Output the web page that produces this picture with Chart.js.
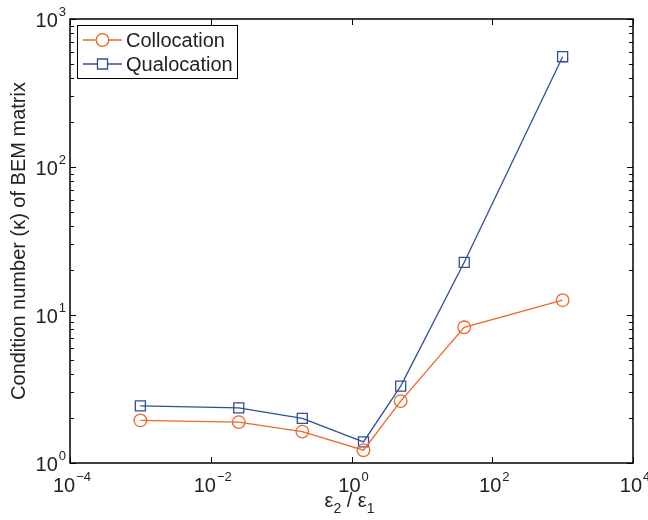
<!DOCTYPE html>
<html>
<head>
<meta charset="utf-8">
<script src="https://cdn.jsdelivr.net/npm/chart.js@4/dist/chart.umd.min.js"></script>
<style>
  body { margin: 0; background: #fff; }
  #wrap { width: 648px; height: 520px; }
</style>
</head>
<body>
<div id="wrap"><canvas id="kappaChart" width="648" height="520"></canvas></div>
<script>
// eps2/eps1 ratios and condition numbers
const ratios = [0.001, 0.025, 0.2, 1.48, 5, 40, 1000];
const collocation = [1.94, 1.89, 1.63, 1.22, 2.62, 8.26, 12.6];
const qualocation = [2.43, 2.36, 2.0, 1.39, 3.31, 22.7, 556];

// tick positions and exponent labels (10^n)
const xTicks = [1e-4, 1e-2, 1, 1e2, 1e4];
const xTickExp = ['\u22124', '\u22122', '0', '2', '4'];
const yTicks = [1, 10, 100, 1000];
const yTickExp = ['0', '1', '2', '3'];

const FONT = '"Liberation Sans", Arial, Helvetica, sans-serif';
const TEXT = '#222';

function pts(ys) {
    return ratios.map((x, i) => ({ x: x, y: ys[i] }));
}

// draws "10" with a superscript exponent; align = 'center' or 'right'
function drawPow(ctx, exp, x, baseY, align) {
    ctx.font = '20px ' + FONT;
    const wBase = ctx.measureText('10').width;
    ctx.font = '13px ' + FONT;
    const wExp = ctx.measureText(exp).width;
    const total = wBase + wExp + 1;
    let left = align === 'right' ? x - total : x - total / 2;
    ctx.textAlign = 'left';
    ctx.textBaseline = 'alphabetic';
    ctx.fillStyle = TEXT;
    ctx.font = '20px ' + FONT;
    ctx.fillText('10', left, baseY);
    ctx.font = '13px ' + FONT;
    ctx.fillText(exp, left + wBase + 1, baseY - 11);
}

const matlabAxes = {
    id: 'matlabAxes',
    afterDatasetsDraw(chart) {
        const ctx = chart.ctx;
        const a = chart.chartArea;
        const xs = chart.scales.x, ys = chart.scales.y;
        ctx.save();
        ctx.strokeStyle = '#000';
        ctx.lineWidth = 1.5;
        ctx.strokeRect(a.left, a.top, a.right - a.left, a.bottom - a.top);

        ctx.lineWidth = 1;
        ctx.beginPath();
        // x ticks (inward, bottom and top)
        xTicks.forEach(v => {
            const px = Math.round(xs.getPixelForValue(v)) + 0.5;
            ctx.moveTo(px, a.bottom); ctx.lineTo(px, a.bottom - 6);
            ctx.moveTo(px, a.top); ctx.lineTo(px, a.top + 6);
        });
        // y ticks, major and minor (inward, left and right)
        for (let d = 0; d < yTicks.length; d++) {
            for (let m = 1; m <= 9; m++) {
                const v = yTicks[d] * m;
                if (v > yTicks[yTicks.length - 1]) break;
                const len = m === 1 ? 6 : 4;
                const py = Math.round(ys.getPixelForValue(v)) + 0.5;
                ctx.moveTo(a.left, py); ctx.lineTo(a.left + len, py);
                ctx.moveTo(a.right, py); ctx.lineTo(a.right - len, py);
            }
        }
        ctx.stroke();

        // tick labels
        xTicks.forEach((v, i) => drawPow(ctx, xTickExp[i], xs.getPixelForValue(v) + 2, a.bottom + 29, 'center'));
        yTicks.forEach((v, i) => drawPow(ctx, yTickExp[i], a.left - 4, ys.getPixelForValue(v) + 8, 'right'));

        // y title
        ctx.save();
        ctx.translate(25, (a.top + a.bottom) / 2);
        ctx.rotate(-Math.PI / 2);
        ctx.font = '20px ' + FONT;
        ctx.textAlign = 'center';
        ctx.textBaseline = 'alphabetic';
        ctx.fillStyle = TEXT;
        ctx.fillText('Condition number (\u03ba) of BEM matrix', 0, 0);
        ctx.restore();

        // x title: eps_2 / eps_1
        const parts = [['\u03b5', 20, 0], ['2', 14, 6], [' / ', 20, 0], ['\u03b5', 20, 0], ['1', 14, 6]];
        let w = 0;
        parts.forEach(p => { ctx.font = p[1] + 'px ' + FONT; w += ctx.measureText(p[0]).width; });
        let cx = (a.left + a.right) / 2 - w / 2 - 2;
        ctx.textAlign = 'left';
        ctx.fillStyle = TEXT;
        parts.forEach(p => {
            ctx.font = p[1] + 'px ' + FONT;
            ctx.fillText(p[0], cx, 507 + p[2]);
            cx += ctx.measureText(p[0]).width;
        });

        // legend box in the upper-left corner
        const lx = 77, ly = 25, lw = 160, lh = 53;
        ctx.fillStyle = '#fff';
        ctx.fillRect(lx, ly, lw, lh);
        ctx.lineWidth = 1;
        ctx.strokeStyle = '#000';
        ctx.strokeRect(lx + 0.5, ly + 0.5, lw, lh);
        chart.data.datasets.forEach((ds, i) => {
            const rowY = ly + 15 + i * 24;
            ctx.strokeStyle = ds.borderColor;
            ctx.lineWidth = ds.borderWidth;
            ctx.beginPath();
            ctx.moveTo(lx + 6, rowY); ctx.lineTo(lx + 45, rowY);
            ctx.stroke();
            ctx.fillStyle = '#fff';
            ctx.strokeStyle = ds.pointBorderColor;
            ctx.lineWidth = ds.pointBorderWidth;
            Chart.helpers.drawPoint(ctx, {
                pointStyle: ds.pointStyle, radius: ds.pointRadius,
                borderWidth: ds.pointBorderWidth, rotation: 0
            }, lx + 25.5, rowY);
            ctx.fillStyle = TEXT;
            ctx.font = '20px ' + FONT;
            ctx.textBaseline = 'middle';
            ctx.fillText(ds.label, lx + 49, rowY + 1);
        });
        ctx.restore();
    }
};

const kappaCtx = document.getElementById('kappaChart').getContext('2d');
new Chart(kappaCtx, {
    type: 'line',
    data: {
        datasets: [
            {
                label: 'Collocation',
                data: pts(collocation),
                borderColor: '#f0662a',
                backgroundColor: 'rgba(0,0,0,0)',
                borderWidth: 1.3,
                pointStyle: 'circle',
                pointRadius: 6.3,
                pointBorderWidth: 1.3,
                pointBackgroundColor: 'rgba(0,0,0,0)',
                pointBorderColor: '#f0662a',
                tension: 0
            },
            {
                label: 'Qualocation',
                data: pts(qualocation),
                borderColor: '#2d4f99',
                backgroundColor: 'rgba(0,0,0,0)',
                borderWidth: 1.3,
                pointStyle: 'rect',
                pointRadius: 7.1,
                pointBorderWidth: 1.3,
                pointBackgroundColor: 'rgba(0,0,0,0)',
                pointBorderColor: '#2d4f99',
                tension: 0
            }
        ]
    },
    options: {
        responsive: false,
        animation: false,
        clip: false,
        layout: { padding: { left: 70, top: 19, right: 15, bottom: 57 } },
        plugins: { legend: { display: false }, tooltip: { enabled: false } },
        scales: {
            x: { type: 'logarithmic', min: 1e-4, max: 1e4, display: false },
            y: { type: 'logarithmic', min: 1, max: 1000, display: false }
        }
    },
    plugins: [matlabAxes]
});
</script>
</body>
</html>
